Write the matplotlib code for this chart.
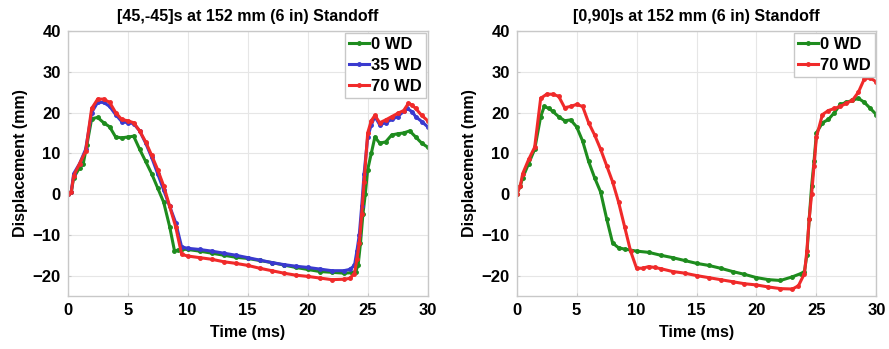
import numpy as np
import matplotlib.pyplot as plt

# [45,-45]s panel
t_a_0 = [0, 0.3, 0.5, 1.0, 1.3, 1.6, 2.0, 2.5, 3.0, 3.5, 4.0, 4.5, 5.0, 5.5, 6.0, 6.5, 7.0, 7.5,
         8.0, 8.5, 8.9, 9.2, 9.5, 10, 11, 12, 13, 14, 15, 16, 17, 18, 19, 20, 21, 22, 23, 23.7,
         24.0, 24.2, 24.4, 24.6, 24.8, 25.0, 25.3, 25.6, 26.0, 26.5, 27.0, 27.5, 28.0, 28.5,
         29.0, 29.5, 30.0]
d_a_0 = [0, 0.5, 4.0, 6.5, 7.5, 12.0, 18.5, 18.8, 17.5, 16.5, 14.0, 13.8, 14.0, 14.2, 11.0, 8.0,
         5.0, 1.5, -2.0, -8.0, -13.9, -13.8, -13.5, -13.6, -14.0, -14.5, -15.0, -15.5, -15.8,
         -16.3, -16.8, -17.4, -18.0, -18.5, -19.0, -19.2, -19.4, -19.3, -19.0, -17.5, -12.0,
         -5.0, 0.0, 6.0, 10.0, 14.0, 12.5, 12.8, 14.5, 14.8, 15.0, 15.5, 14.0, 12.5, 11.5]

t_a_35 = [0, 0.3, 0.5, 1.0, 1.5, 2.0, 2.5, 3.0, 3.5, 4.0, 4.5, 5.0, 5.5, 6.0, 6.5, 7.0, 7.5,
          8.0, 8.5, 9.0, 9.5, 10, 11, 12, 13, 14, 15, 16, 17, 18, 19, 20, 21, 22, 23, 23.5,
          23.9, 24.1, 24.3, 24.5, 24.7, 25.0, 25.3, 25.6, 26.0, 26.5, 27.0, 27.5, 28.0, 28.3,
          28.7, 29.0, 29.5, 30.0]
d_a_35 = [0, 0.5, 5.0, 7.5, 11.0, 20.0, 22.5, 22.5, 21.5, 19.5, 17.8, 17.5, 17.3, 15.5, 12.5,
          9.0, 5.0, 1.0, -3.0, -7.0, -13.0, -13.3, -13.6, -14.0, -14.5, -15.0, -15.6, -16.2,
          -16.8, -17.3, -17.7, -18.0, -18.4, -18.8, -18.8, -18.5, -17.5, -14.0, -10.0, -3.0,
          5.0, 14.0, 17.0, 19.0, 17.0, 17.5, 18.3, 19.0, 20.3, 21.0, 20.2, 19.0, 17.8, 16.5]

t_a_70 = [0, 0.3, 0.5, 1.0, 1.5, 2.0, 2.5, 3.0, 3.5, 4.0, 4.5, 5.0, 5.5, 6.0, 6.5, 7.0, 7.5,
          8.0, 8.5, 9.0, 9.5, 10, 11, 12, 13, 14, 15, 16, 17, 18, 19, 20, 21, 22, 23, 23.5,
          23.9, 24.1, 24.3, 24.5, 24.7, 25.0, 25.3, 25.6, 26.0, 26.5, 27.0, 27.5, 28.0, 28.4,
          28.7, 29.0, 29.5, 30.0]
d_a_70 = [0, 0.5, 4.5, 7.5, 10.5, 21.0, 23.3, 23.3, 22.5, 20.0, 18.3, 18.0, 17.5, 15.5, 12.8,
          9.5, 6.0, 2.0, -3.0, -8.0, -14.8, -15.2, -15.6, -16.0, -16.6, -17.0, -17.5, -18.2,
          -18.8, -19.4, -19.9, -20.2, -20.6, -21.0, -20.9, -20.7, -19.5, -16.0, -12.0, -5.0,
          3.0, 15.0, 18.0, 19.3, 17.5, 18.2, 19.0, 19.8, 20.5, 22.3, 21.8, 21.0, 19.3, 18.0]

# [0,90]s panel
t_b_0 = [0, 0.3, 0.5, 1.0, 1.5, 2.0, 2.3, 2.7, 3.0, 3.5, 4.0, 4.5, 5.0, 5.5, 6.0, 6.5, 7.0,
         7.5, 8.0, 8.5, 9.0, 10, 11, 12, 13, 14, 15, 16, 17, 18, 19, 20, 21, 22, 23, 23.7,
         24.0, 24.2, 24.4, 24.6, 24.8, 25.0, 25.5, 26.0, 26.5, 27.0, 27.5, 28.0, 28.5, 29.0,
         29.5, 30.0]
d_b_0 = [0, 2.0, 4.0, 7.5, 11.0, 19.0, 21.5, 21.0, 20.3, 19.0, 18.0, 18.2, 16.5, 13.0, 8.0,
         4.0, 0.5, -6.0, -12.0, -13.2, -13.5, -14.0, -14.3, -15.0, -15.6, -16.3, -17.0, -17.5,
         -18.2, -19.0, -19.7, -20.5, -21.0, -21.2, -20.3, -19.5, -19.0, -15.0, -6.0, 2.0, 8.0,
         15.0, 17.5, 18.3, 20.0, 22.0, 22.5, 23.0, 23.5, 22.5, 21.0, 19.5]

t_b_70 = [0, 0.3, 0.5, 1.0, 1.5, 2.0, 2.5, 3.0, 3.5, 4.0, 4.5, 5.0, 5.5, 6.0, 6.5, 7.0, 7.5,
          8.0, 8.5, 9.0, 9.5, 10, 10.5, 11, 11.5, 12, 13, 14, 15, 16, 17, 18, 19, 20, 21, 22,
          23, 23.5, 24.0, 24.2, 24.4, 24.6, 24.8, 25.0, 25.5, 26.0, 26.5, 27.0, 27.5, 28.0,
          28.5, 29.0, 29.5, 30.0]
d_b_70 = [0, 2.0, 5.0, 8.5, 11.5, 23.5, 24.5, 24.5, 24.0, 21.2, 21.5, 22.0, 21.5, 17.5, 14.5,
          11.0, 7.0, 3.0, -2.0, -8.0, -14.0, -18.2, -18.2, -17.8, -18.0, -18.3, -19.0, -19.4,
          -20.0, -20.5, -21.0, -21.5, -22.0, -22.3, -22.8, -23.2, -23.3, -22.5, -19.5, -14.0,
          -6.0, 0.0, 7.0, 14.0, 19.5, 20.5, 21.0, 21.5, 22.3, 23.0, 25.0, 28.3, 28.5, 27.5]

green = '#1e8c1e'
blue = '#3a3acf'
red = '#f02a2a'

plt.rcParams['font.family'] = ['Liberation Sans', 'DejaVu Sans']
plt.rcParams['font.weight'] = 'bold'

fig = plt.figure(figsize=(8.89, 3.49), dpi=100)
ax1 = fig.add_axes([0.0761, 0.152, 0.4050, 0.759])
ax2 = fig.add_axes([0.5812, 0.152, 0.4046, 0.759])


def setup(ax, title):
    ax.set_xlim(0, 30)
    ax.set_ylim(-25, 40)
    ax.set_xticks([0, 5, 10, 15, 20, 25, 30])
    ax.set_yticks([-20, -10, 0, 10, 20, 30, 40])
    ax.grid(True, color='#e6e6e6', linewidth=0.8)
    ax.set_axisbelow(True)
    for s in ax.spines.values():
        s.set_color('#c8c8c8')
        s.set_linewidth(1.0)
    ax.tick_params(direction='in', length=2, color='#c8c8c8', labelsize=12, pad=5)
    for lab in ax.get_xticklabels() + ax.get_yticklabels():
        lab.set_fontweight('bold')
    ax.set_title(title, fontsize=11.5, fontweight='bold', pad=7)
    ax.set_xlabel('Time (ms)', fontsize=11.5, fontweight='bold', labelpad=5)
    ax.set_ylabel('Displacement (mm)', fontsize=11.5, fontweight='bold', labelpad=3)


def line(ax, t, d, c, lab):
    ax.plot(t, d, color=c, lw=2.2, marker='.', ms=5, label=lab)


line(ax1, t_a_0, d_a_0, green, '0 WD')
line(ax1, t_a_35, d_a_35, blue, '35 WD')
line(ax1, t_a_70, d_a_70, red, '70 WD')
setup(ax1, '[45,-45]s at 152 mm (6 in) Standoff')

line(ax2, t_b_0, d_b_0, green, '0 WD')
line(ax2, t_b_70, d_b_70, red, '70 WD')
setup(ax2, '[0,90]s at 152 mm (6 in) Standoff')

for ax in (ax1, ax2):
    leg = ax.legend(loc='upper right', bbox_to_anchor=(1.0, 1.0), fancybox=False,
                    framealpha=1, edgecolor='#c8c8c8', fontsize=12, handlelength=1.2,
                    handletextpad=0.1, borderpad=0.25, labelspacing=0.35, borderaxespad=0.1)
    leg.get_frame().set_linewidth(1.0)
    for txt in leg.get_texts():
        txt.set_fontweight('bold')

fig.savefig('out.png', dpi=100)
